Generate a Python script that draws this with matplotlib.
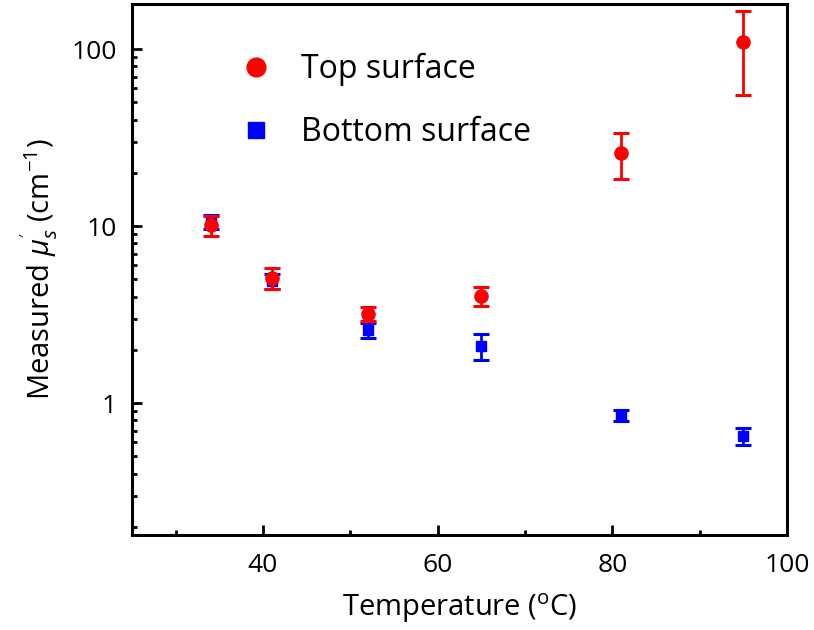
import matplotlib
matplotlib.use("Agg")
import matplotlib.pyplot as plt
from matplotlib.lines import Line2D
from matplotlib.ticker import LogLocator, FixedLocator, NullFormatter

plt.rcParams['font.family'] = ['Open Sans', 'DejaVu Sans']
plt.rcParams['mathtext.fontset'] = 'custom'
plt.rcParams['mathtext.rm'] = 'Open Sans'
plt.rcParams['mathtext.it'] = 'Open Sans:italic'

temps = [34, 41, 52, 65, 81, 95]
top_vals = [10.1, 5.1, 3.2, 4.05, 26.0, 110.0]
top_err = [1.3, 0.7, 0.3, 0.5, 7.5, 55.0]
bot_vals = [10.6, 4.9, 2.6, 2.1, 0.85, 0.65]
bot_err = [1.0, 0.5, 0.25, 0.35, 0.06, 0.07]
labels = ['Top surface', 'Bottom surface']

fig = plt.figure(figsize=(8.14, 6.30), dpi=100)
ax = fig.add_axes([132/814, 1-535/630, (787-132)/814, (535-4)/630])

ax.errorbar(temps, bot_vals, yerr=bot_err, fmt='s', color='#0000ff', ms=7.2,
            elinewidth=2, capsize=6, capthick=2.2, zorder=3)
ax.errorbar(temps, top_vals, yerr=top_err, fmt='o', color='#ff0000', ms=9.5,
            elinewidth=2, capsize=6, capthick=2.2, zorder=4)

ax.set_yscale('log')
ax.set_xlim(25, 100)
ax.set_ylim(0.18, 180)
ax.set_xticks([40, 60, 80, 100])
ax.xaxis.set_minor_locator(FixedLocator([25, 30, 50, 70, 90]))
ax.set_yticks([1, 10, 100])
ax.set_yticklabels(['1', '10', '100'])
ax.yaxis.set_minor_locator(LogLocator(base=10, subs=range(2, 10)))
ax.yaxis.set_minor_formatter(NullFormatter())

for s in ax.spines.values():
    s.set_linewidth(2.2)
ax.tick_params(which='both', direction='in', width=2, labelsize=19, top=False, right=False)
ax.tick_params(which='major', length=7)
ax.tick_params(axis='y', which='major', pad=11)
ax.tick_params(axis='x', which='major', pad=13)
ax.tick_params(which='minor', length=3.5)

ax.set_xlabel('Temperature ($\\mathregular{^{o}}$C)', fontsize=21, labelpad=9.5)
ax.set_ylabel("Measured $\\mu_s^{'}$ (cm$^{-1}$)", fontsize=21, labelpad=8)

handles = [Line2D([], [], ls='none', marker='o', color='#ff0000', ms=13.5),
           Line2D([], [], ls='none', marker='s', color='#0000ff', ms=11)]
ax.legend(handles, labels, loc='upper left', bbox_to_anchor=(0.121, 0.962),
          frameon=False, fontsize=23, handletextpad=0.9, labelspacing=0.94,
          handlelength=1.0)

fig.savefig('out.png', dpi=100)
